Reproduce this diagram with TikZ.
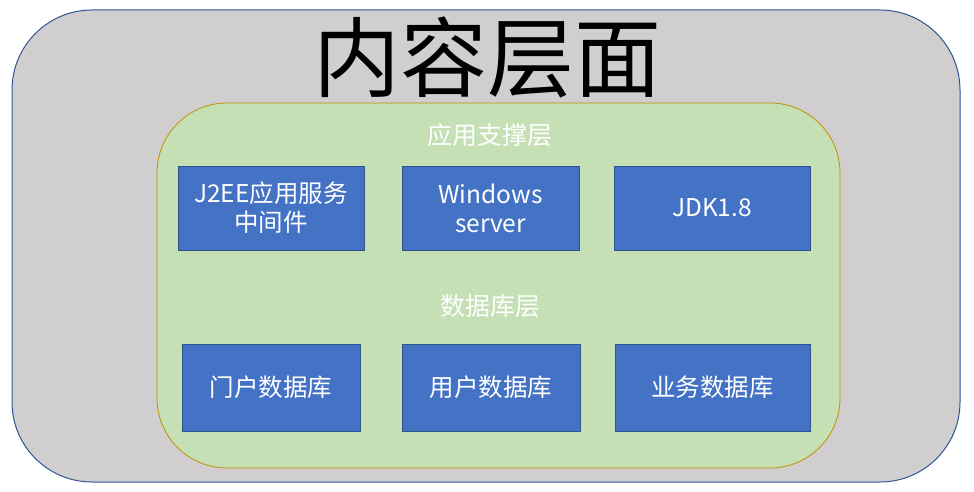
\documentclass[tikz,border=0pt]{standalone}
\usepackage{fontspec}
\setmainfont{Noto Sans CJK SC}
\usetikzlibrary{positioning}
\definecolor{layergray}{HTML}{D0CECE}
\definecolor{layerblue}{HTML}{2F5597}
\definecolor{supportgreen}{HTML}{C5E0B4}
\definecolor{supportgold}{HTML}{BF9000}
\definecolor{itemblue}{HTML}{4472C4}
\definecolor{itemedge}{HTML}{2F528F}
\tikzset{%
	layer/.style={draw=layerblue, fill=layergray, line width=1pt, rounded corners=80pt},
	support/.style={draw=supportgold, fill=supportgreen, line width=0.8pt, rounded corners=70pt},
	item/.style={draw=itemedge, fill=itemblue, line width=0.6pt, text=white, align=center,
		minimum height=84pt, inner sep=0pt, font=\fontsize{24.5}{29}\selectfont},
	caption/.style={text=white, font=\fontsize{25}{28}\selectfont},
	headline/.style={font=\fontsize{87}{87}\selectfont}
}
\begin{document}
\begin{tikzpicture}[x=1pt, y=-1pt]
	\useasboundingbox (0,0) rectangle (974,492);
	\draw[layer] (12,10) rectangle (960,482);
	\draw[support] (157,103) rectangle (840,468);
	\node[headline] (title) at (487,58) {内容层面};
	\node[caption] (app) at (490,135) {应用支撑层};
	\node[item, minimum width=186pt] (j2ee) at (271,208) {J2EE应用服务\\中间件};
	\node[item, minimum width=177pt] (win) at (490.5,208) {Windows\\server};
	\node[item, minimum width=196pt] (jdk) at (712,208) {JDK1.8};
	\node[caption] (db) at (490,306) {数据库层};
	\node[item, minimum width=178pt, minimum height=87pt] (portal) at (271,387.5) {门户数据库};
	\node[item, minimum width=178pt, minimum height=87pt] (user) at (491,387.5) {用户数据库};
	\node[item, minimum width=195pt, minimum height=87pt] (biz) at (712.5,387.5) {业务数据库};
\end{tikzpicture}
\end{document}
